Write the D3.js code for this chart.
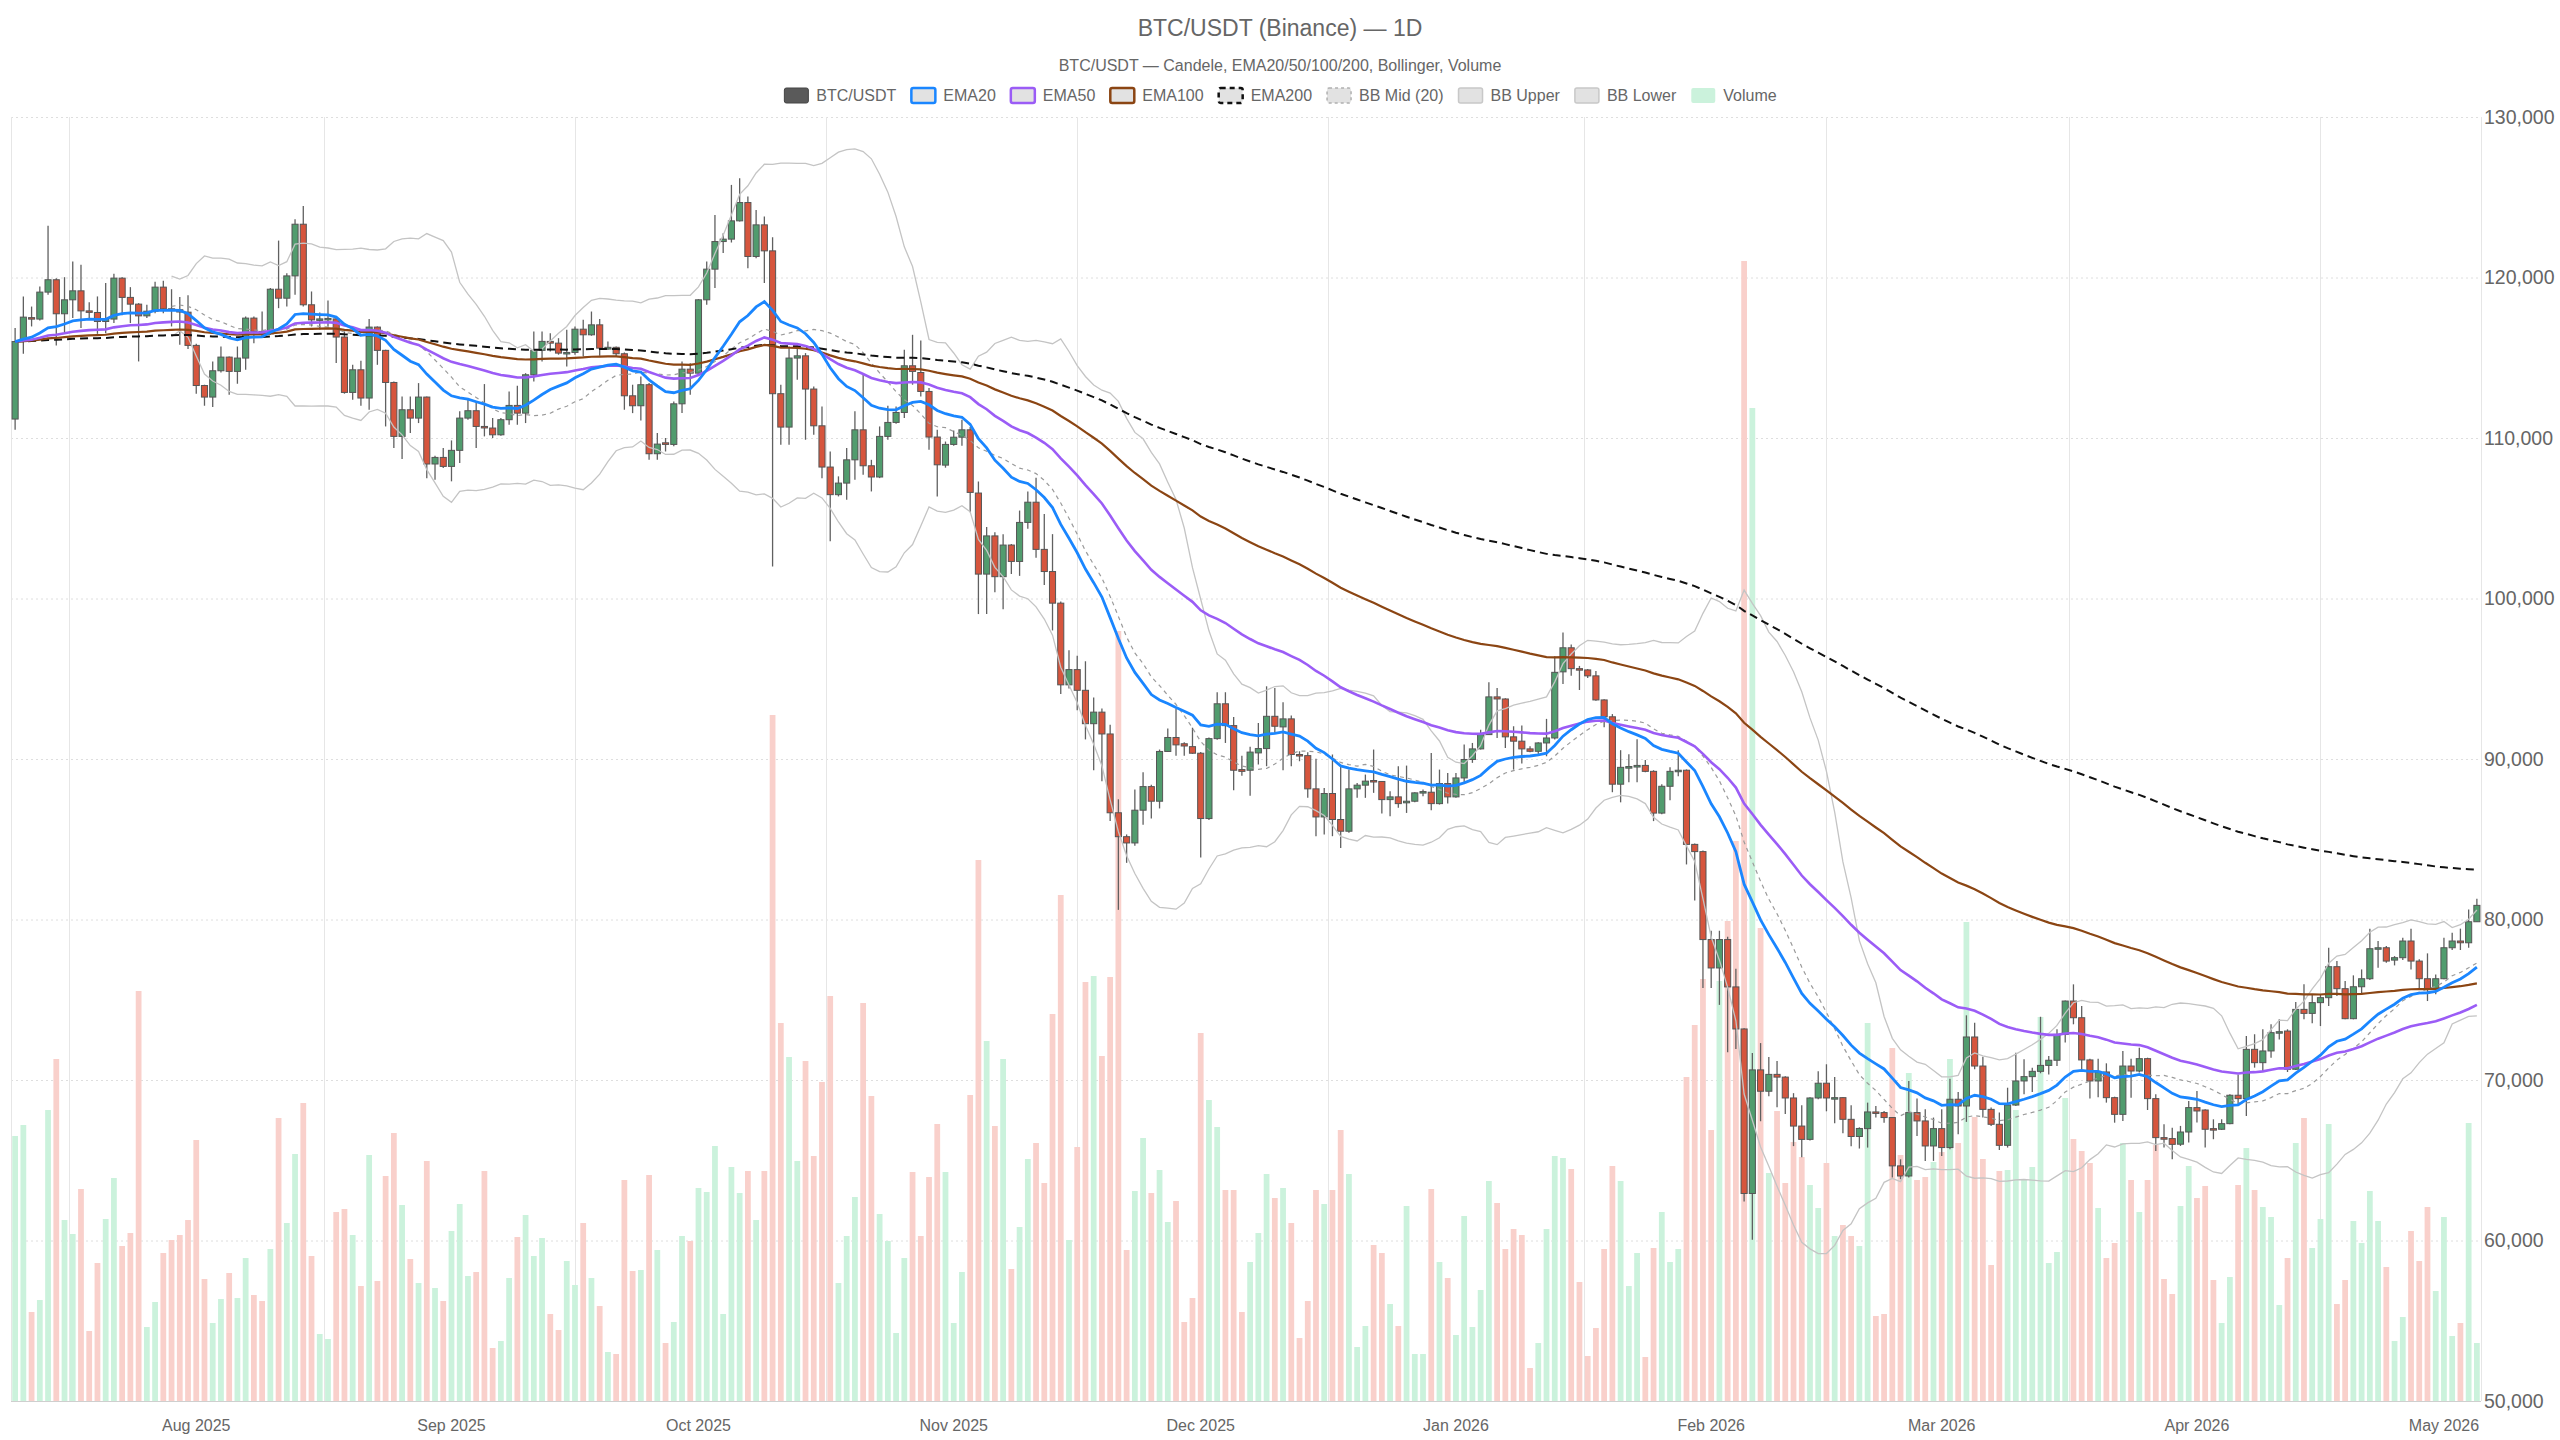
<!DOCTYPE html>
<html><head><meta charset="utf-8">
<script src="https://cdn.jsdelivr.net/npm/d3@7"></script>
<style>
html,body{margin:0;padding:0;background:#fff;}
svg{display:block;font-family:"Liberation Sans",Arial,sans-serif;}
</style></head><body>
<svg id="chart" width="2560" height="1440"></svg>
<script>
// ---------------- DATA ----------------
const startDate = new Date(2025, 6, 10);   // first daily candle
const titleText = "BTC/USDT (Binance) — 1D";
const subtitleText = "BTC/USDT — Candele, EMA20/50/100/200, Bollinger, Volume";

const open = [
111180,116010,117500,117410,119090,119860,117740,118610,119170,117920,
117820,117260,117410,119960,118760,118340,117610,117900,119400,118050,
117990,117840,115770,113270,112550,114190,115040,114150,114980,117470,
116640,116490,119270,118710,120100,123320,118300,117360,117420,117420,
116290,112840,114250,112490,116910,115460,113460,110100,111760,111240,
112550,108380,108790,108230,109230,111240,111700,110720,110620,110200,
111140,112030,111550,113940,115460,116020,115910,115290,115330,116780,
116430,117050,115540,115650,115250,112630,112010,113320,109020,109700,
109600,112130,114290,114040,118610,120520,122240,122390,123530,124670,
121310,123280,121660,112760,110680,114980,115120,113050,110760,108190,
106470,107190,108640,110510,108270,107570,110100,110970,111590,114500,
114080,112900,110060,108310,109600,110050,110510,106570,101520,103900,
101360,103330,102310,104740,106000,103060,101680,99710,94620,95570,
94280,92200,92920,91560,86650,85160,84770,86810,88280,87370,
90470,91340,90950,90770,90360,86290,91270,93440,92080,89340,
89300,90380,90650,92660,92000,92500,90280,90210,88140,86390,
87850,86230,85500,88140,88370,88660,88600,87470,87640,87270,
87370,87890,87930,87220,88470,87640,88820,89970,90630,91520,
93870,93740,91380,91110,90630,90480,91000,91310,95430,96930,
95630,95550,95180,93680,92630,88430,89430,89500,89600,89230,
86630,88300,89230,89300,84680,84230,78750,76980,78750,75800,
73180,62930,70630,69300,70350,70180,68880,67130,66300,68880,
69800,68850,68900,67550,66480,66970,68010,67970,67660,64650,
64020,67970,67450,65890,66970,65790,68800,68380,72680,70870,
68170,67240,65930,68440,69940,70210,70540,70910,71230,72840,
74920,73880,71250,69940,70500,68900,67860,70870,70560,71330,
68840,66410,66350,66000,66760,68280,68130,66970,66930,67280,
69050,68840,71910,71080,71810,72950,73050,70670,74400,74150,
74820,75130,77060,75690,73820,75810,76310,78180,78240,77470,
77620,78660,77410,76310,75690,76310,78240,78660,78550,79860
];
const high = [
116850,118820,118190,119440,123220,119960,120020,121000,120790,118460,
118820,119650,120230,120020,119400,118400,118300,119730,119790,119270,
118780,118900,115870,113320,114770,115700,115080,115700,117570,117570,
117880,119340,122300,120270,123630,124460,119130,117820,118570,117470,
116640,114560,114810,117410,116950,115500,113520,112590,112590,113420,
112590,108900,109370,109850,111660,112490,112280,113360,111240,111240,
112900,113250,114040,116640,116640,116530,116220,116740,116950,117370,
117880,117410,116020,115700,115330,113320,113830,113420,110310,110000,
112280,114770,114660,118650,121000,123900,122760,125770,126190,125050,
124210,123800,122510,113320,115700,115910,115290,113210,111970,109160,
107610,109370,111660,113940,108640,110720,112010,111970,115500,116430,
116080,113110,110510,109780,110460,111140,110690,107290,104460,104120,
104010,103400,105480,106660,107520,105260,104010,99820,96770,96430,
96090,93830,93150,92130,87490,85300,88100,89180,88390,90590,
91900,93150,91040,91950,90430,91340,94160,94160,92620,90200,
90770,92250,94530,94430,93540,92710,90480,90420,90010,88200,
90280,89510,89340,88510,89030,90590,88620,87990,89550,89590,
87930,88100,90380,89340,89130,89130,90900,91000,91830,94780,
94430,93790,92040,92080,90800,91050,92500,96400,97880,97130,
95800,95600,95480,93730,92800,90550,90300,91230,89930,89300,
88430,89480,90550,89350,84730,84300,79300,79300,78930,76930,
73230,71680,72300,71430,71180,70230,69180,68430,68930,70550,
70980,70180,68930,68430,67050,68590,68380,68070,67660,65060,
69940,68840,68170,67660,68170,70080,69250,74030,73570,71450,
68280,67970,69520,71700,71290,70770,73940,71500,73160,74960,
75960,74610,71330,71330,71040,68960,71810,71330,72010,71390,
69110,67240,67030,67140,68690,69320,68180,67550,67550,69110,
70350,72740,72850,73160,73470,73780,73160,74860,75960,75340,
75340,78240,77410,76170,76520,76890,79430,78660,78350,77720,
78860,79430,77520,77890,76580,78860,79180,79430,80630,81290
];
const low = [
110510,115250,116950,117320,118920,115770,116530,117470,116850,117430,
116490,116530,117160,117650,117160,114770,117470,117780,117780,116950,
115810,115540,112760,112010,111930,114080,112690,113380,114250,115910,
116330,116430,118090,118190,118920,118190,116950,116740,116950,114670,
112760,112380,112010,111760,114560,110720,109370,108690,110310,110930,
107500,107400,108130,107300,108440,111140,109370,110100,110000,110140,
110830,110830,110930,113520,114770,115390,115190,114460,115190,115080,
116370,115120,115500,115080,111760,111550,111090,108640,108640,109160,
109480,111550,112690,114000,118300,119340,121520,122180,123490,120580,
121200,119650,102000,109580,109580,113630,109890,110200,107500,103560,
106360,106150,107400,107710,106670,107500,109890,110890,111240,113320,
112590,109270,106360,108150,109510,109510,105370,99030,99030,100390,
99330,101520,101410,104350,102540,100840,98010,94050,94400,93030,
91220,89300,88620,86130,80600,83530,84600,85900,86290,86920,
90430,90200,90200,90320,83870,86200,91200,91000,88050,88960,
87710,89650,89550,91630,89300,89550,89860,87580,85190,85290,
85190,84460,85400,87580,87580,87890,86600,86440,86960,86640,
87310,87680,86810,87160,87220,87580,88510,89760,90590,91520,
91310,90690,89340,89720,90420,90280,90170,91210,94680,95180,
94300,95050,93630,91980,87930,87300,88550,88550,89180,86130,
86550,87430,88930,83430,81180,75730,75730,74680,71730,71930,
62430,60050,67430,68980,68300,67880,65880,65180,66230,68800,
68050,67300,66680,65880,65730,65790,67660,67340,63920,63820,
63920,66510,64960,64960,65270,65680,66620,67390,70670,67660,
67140,65640,65790,68380,69110,69250,70420,70350,70870,72330,
73470,70670,68840,68920,68590,67340,67450,68900,70460,68130,
65580,65790,65060,65890,66100,67350,65790,66310,66890,67240,
68420,67760,70770,70500,71390,72530,70500,70630,73780,73530,
73360,74610,75230,73780,73780,75340,76230,77000,77310,77140,
77470,76890,75650,74920,75340,76270,78100,78100,78240,79860
];
const close = [
116010,117530,117450,119090,119860,117740,118610,119170,117920,117850,
117260,117410,119960,118760,118340,117610,117900,119400,118050,117990,
117850,115770,113270,112550,114190,115040,114150,114980,117470,116640,
116490,119270,118710,120100,123320,118300,117360,117420,117450,116290,
112840,114250,112490,116910,115460,113460,110100,111760,111240,112550,
108380,108790,108230,109230,111240,111700,110720,110680,110200,111140,
112030,111550,113940,115460,116020,115910,115290,115330,116780,116430,
117050,115600,115650,115250,112630,112010,113320,109020,109620,109600,
112130,114290,114040,118610,120520,122240,122390,123530,124670,121310,
123280,121660,112760,110680,114980,115120,113050,110760,108190,106470,
107190,108640,110510,108270,107570,110100,110970,111590,114500,114150,
112900,110060,108330,109600,110050,110510,106610,101520,103900,101360,
103330,102310,104740,106000,103060,101680,99710,94620,95570,94280,
92200,92920,91560,86650,85160,84770,86810,88280,87370,90470,
91340,90880,90810,90360,86290,91270,93440,92080,89300,89230,
90430,90650,92660,92040,92500,90280,90260,88140,86390,87850,
86230,85500,88140,88370,88620,88600,87470,87640,87220,87370,
87890,87970,87220,88470,87640,88820,89970,90630,91520,93870,
93740,91380,91110,90630,90480,91000,91310,95400,96930,95630,
95550,95180,93680,92630,88430,89480,89530,89600,89230,86630,
88300,89230,89300,84680,84230,78750,76980,78750,75800,73180,
62930,70630,69300,70350,70180,68880,67130,66300,68880,69800,
68880,68900,67550,66480,66980,68010,67970,67660,64650,64020,
67970,67450,65890,66970,65790,68800,68380,72680,70870,68170,
67240,65930,68440,69940,70210,70540,70910,71230,72840,74920,
73880,71250,69940,70500,68900,67860,70870,70560,71330,68840,
66410,66310,65990,66760,68280,68070,66930,66890,67280,69050,
68840,71910,71080,71810,72950,73010,70670,74400,74150,74820,
75130,77060,75690,73820,75810,76310,78180,78240,77410,77620,
78660,77410,76310,75690,76310,78240,78660,78550,79860,80880
];
const volume = [
13250,13800,4450,5050,14550,17100,9050,8350,10600,3500,
6900,9100,11150,7750,8400,20500,3700,4950,7400,8050,
8300,9050,13050,6100,3900,5100,6400,5150,7150,5300,
5000,7600,14150,8900,12350,14900,7250,3350,3100,9450,
9600,8300,5750,12300,6000,11250,13400,9800,7100,5900,
12000,5650,5000,8500,9850,6250,6450,11500,2650,3000,
6150,8200,9300,7250,8150,4350,3550,7000,5800,8900,
6150,4750,2450,2350,11050,6500,6550,11300,7550,2900,
3950,8250,8000,10650,10450,12750,4350,11700,10400,11500,
9050,11500,34300,18900,17200,12000,17000,12250,15950,20250,
5900,8250,10200,19900,15250,9350,8000,3400,7150,11450,
8250,11200,13850,11450,3900,6450,15300,27050,18000,13750,
17100,6600,8700,12100,12900,10900,19350,25300,8050,12700,
20950,21250,17250,21200,38500,7550,10500,13150,10400,11550,
8950,10000,3950,5150,18400,15050,13700,10550,10550,4450,
6950,8400,11350,10150,10650,8900,3150,5000,10550,9850,
10550,13550,11350,2700,3750,7800,7400,4850,3750,9750,
2350,2350,10600,6950,6150,3300,9250,3700,5550,11000,
9900,7600,8600,8300,1650,2900,8600,12250,12150,11600,
5950,2250,3650,7600,11750,11000,5750,7400,2200,7650,
9450,6950,7600,16200,18800,21100,13550,21000,24000,28000,
57000,49650,23650,11400,14500,10900,12950,12200,10800,9650,
11900,8250,8800,8250,7750,18900,4250,4350,17650,12300,
16400,11050,11200,11950,12450,17100,12900,23950,14200,12100,
6800,11500,11550,14550,11050,11700,19200,6900,7450,15150,
13100,12500,11900,9650,7150,7900,12900,11050,9450,11050,
12800,6100,5350,9750,11750,10150,10750,6050,3900,6200,
10800,12650,10550,9700,9200,4800,7150,12900,14150,7650,
9100,13850,4850,6050,9000,7900,10500,9000,6700,3000,
4200,8500,7000,9700,5500,9200,3250,3900,13900,2900
];
const priceTicks = [50000,60000,70000,80000,90000,100000,110000,120000,130000];
const emaPeriods = [20, 50, 100, 200];
const bbPeriod = 20;
const legendNames = ["BTC/USDT","EMA20","EMA50","EMA100","EMA200","BB Mid (20)","BB Upper","BB Lower","Volume"];

// ---------------- SETUP ----------------
const N = close.length;
const dates = d3.range(N).map(i => d3.timeDay.offset(startDate, i));
const L = 11, R = 2481, T = 117, B = 1401;
const svg = d3.select("#chart");

const x = d3.scaleBand().domain(d3.range(N)).range([L, R]).padding(0);
const bw = x.bandwidth();
const xc = i => x(i) + bw / 2;
const xt = d3.scaleTime().domain([dates[0], dates[N - 1]]).range([xc(0), xc(N - 1)]);
const y = d3.scaleLinear().domain([50000, 130000]).range([B, T]);
const yv = d3.scaleLinear().domain([0, 64200]).range([B, T]);

// indicators computed from the closes
function ema(src, n) {
  const k = 2 / (n + 1), out = [];
  src.forEach((v, i) => out.push(i === 0 ? v : v * k + out[i - 1] * (1 - k)));
  return out;
}
const emas = emaPeriods.map(p => ema(close, p));
const bbMid = [], bbUp = [], bbLo = [];
close.forEach((v, i) => {
  if (i < bbPeriod - 1) { bbMid.push(null); bbUp.push(null); bbLo.push(null); return; }
  const w = close.slice(i - bbPeriod + 1, i + 1);
  const m = d3.mean(w);
  const sd = Math.sqrt(d3.mean(w, d => (d - m) * (d - m)));
  bbMid.push(m); bbUp.push(m + 2 * sd); bbLo.push(m - 2 * sd);
});

// ---------------- GRID ----------------
const grid = svg.append("g");
grid.selectAll("line.h").data(priceTicks).join("line")
  .attr("x1", L).attr("x2", R).attr("y1", d => y(d) + 0.5).attr("y2", d => y(d) + 0.5)
  .attr("stroke", "#dedede").attr("stroke-width", 1).attr("stroke-dasharray", "2,3");
const mids = d3.timeMonth.range(new Date(2025, 6, 1), new Date(2026, 4, 1))
  .map(m => new Date((+m + +d3.timeMonth.offset(m, 1)) / 2));
const vx = [L, ...mids.map(d => xt(d)), R];
grid.selectAll("line.v").data(vx).join("line")
  .attr("x1", d => Math.round(d) + 0.5).attr("x2", d => Math.round(d) + 0.5)
  .attr("y1", T).attr("y2", B).attr("stroke", "#e6e6e6").attr("stroke-width", 1);

// ---------------- VOLUME ----------------
const upVol = "#cbf2dc", dnVol = "#f9d0cb";
svg.append("g").selectAll("rect").data(volume).join("rect")
  .attr("x", (d, i) => xc(i) - bw * 0.35).attr("width", bw * 0.7)
  .attr("y", d => yv(d)).attr("height", d => B - yv(d))
  .attr("fill", (d, i) => close[i] >= open[i] ? upVol : dnVol);

svg.append("line").attr("x1", L).attr("x2", R).attr("y1", B + 0.5).attr("y2", B + 0.5)
  .attr("stroke", "#cfcfcf");

// ---------------- CANDLES ----------------
const upC = "#519c6e", dnC = "#d6553d", edge = "#555";
const cg = svg.append("g");
cg.selectAll("line").data(close).join("line")
  .attr("x1", (d, i) => xc(i)).attr("x2", (d, i) => xc(i))
  .attr("y1", (d, i) => y(Math.max(high[i], open[i], close[i])))
  .attr("y2", (d, i) => y(Math.min(low[i], open[i], close[i])))
  .attr("stroke", "#606060").attr("stroke-width", 1.3);
cg.selectAll("rect").data(close).join("rect")
  .attr("x", (d, i) => xc(i) - bw * 0.37).attr("width", bw * 0.74)
  .attr("y", (d, i) => y(Math.max(open[i], close[i])))
  .attr("height", (d, i) => Math.max(1.5, Math.abs(y(open[i]) - y(close[i]))))
  .attr("fill", (d, i) => close[i] >= open[i] ? upC : dnC)
  .attr("stroke", edge).attr("stroke-width", 1);

// ---------------- LINES ----------------
const line = d3.line().defined(d => d != null).x((d, i) => xc(i)).y(d => y(d));
const lg = svg.append("g").attr("fill", "none");
lg.append("path").attr("d", line(bbLo)).attr("stroke", "#c4c4c4").attr("stroke-width", 1.3);
lg.append("path").attr("d", line(bbUp)).attr("stroke", "#c4c4c4").attr("stroke-width", 1.3);
lg.append("path").attr("d", line(bbMid)).attr("stroke", "#9a9a9a").attr("stroke-width", 1.2).attr("stroke-dasharray", "4,4");
lg.append("path").attr("d", line(emas[3])).attr("stroke", "#111").attr("stroke-width", 2).attr("stroke-dasharray", "8,5");
lg.append("path").attr("d", line(emas[2])).attr("stroke", "#8b4513").attr("stroke-width", 2.2);
lg.append("path").attr("d", line(emas[1])).attr("stroke", "#9b5cf6").attr("stroke-width", 2.6);
lg.append("path").attr("d", line(emas[0])).attr("stroke", "#1a86ff").attr("stroke-width", 2.8);

// ---------------- AXES TEXT ----------------
svg.append("g").selectAll("text").data(priceTicks).join("text")
  .attr("x", R + 3).attr("y", d => y(d)).attr("dy", "0.35em")
  .attr("font-size", 19.5).attr("fill", "#666").text(d3.format(","));
const months = d3.timeMonth.range(new Date(2025, 7, 1), new Date(2026, 4, 2));
svg.append("g").selectAll("text").data(months).join("text")
  .attr("x", d => xt(d)).attr("y", 1425).attr("dy", "0.35em").attr("text-anchor", "middle")
  .attr("font-size", 16).attr("fill", "#666").text(d3.timeFormat("%b %Y"));

// ---------------- TITLE ----------------
svg.append("text").attr("x", 1280).attr("y", 28).attr("dy", "0.35em").attr("text-anchor", "middle")
  .attr("font-size", 23).attr("fill", "#666").text(titleText);
svg.append("text").attr("x", 1280).attr("y", 65).attr("dy", "0.35em").attr("text-anchor", "middle")
  .attr("font-size", 16).attr("fill", "#666").text(subtitleText);

// ---------------- LEGEND ----------------
const iconStyles = [
  {fill: "#5a5a5a", stroke: "#444", dash: null, sw: 1},
  {fill: "#e2e2e2", stroke: "#1a86ff", dash: null, sw: 2.5},
  {fill: "#e2e2e2", stroke: "#9b5cf6", dash: null, sw: 2.5},
  {fill: "#e2e2e2", stroke: "#8b4513", dash: null, sw: 2.5},
  {fill: "#e2e2e2", stroke: "#111", dash: "5,4", sw: 2.5},
  {fill: "#e2e2e2", stroke: "#b0b0b0", dash: "3,3", sw: 1.5},
  {fill: "#e2e2e2", stroke: "#c8c8c8", dash: null, sw: 1.5},
  {fill: "#e2e2e2", stroke: "#c8c8c8", dash: null, sw: 1.5},
  {fill: upVol, stroke: "none", dash: null, sw: 0}
];
const leg = svg.append("g");
let cx = 0;
legendNames.forEach((name, k) => {
  const g = leg.append("g");
  const s = iconStyles[k];
  g.append("rect").attr("x", 1).attr("y", -7).attr("width", 24).attr("height", 15).attr("rx", 2)
    .attr("fill", s.fill).attr("stroke", s.stroke).attr("stroke-width", s.sw)
    .attr("stroke-dasharray", s.dash);
  const t = g.append("text").attr("x", 33).attr("dy", "0.35em").attr("font-size", 16)
    .attr("fill", "#666").text(name);
  const w = 33 + t.node().getComputedTextLength();
  g.attr("transform", `translate(${cx},95)`);
  cx += w + 14;
});
const totalW = cx - 14;
leg.attr("transform", `translate(${1280 - totalW / 2},0)`);
</script>
</body></html>
